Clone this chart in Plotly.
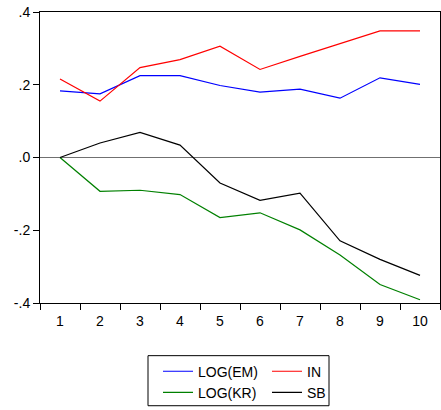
import plotly.graph_objects as go

periods = ["1", "2", "3", "4", "5", "6", "7", "8", "9", "10"]
log_em = [0.183, 0.175, 0.225, 0.225, 0.198, 0.180, 0.188, 0.163, 0.219, 0.201]
in_ser = [0.216, 0.155, 0.247, 0.269, 0.306, 0.242, 0.278, 0.312, 0.348, 0.348]
log_kr = [0.0, -0.093, -0.090, -0.102, -0.165, -0.152, -0.199, -0.268, -0.349, -0.391]
sb = [0.0, 0.040, 0.069, 0.034, -0.070, -0.118, -0.098, -0.229, -0.280, -0.324]
ytick_vals = [-0.4, -0.2, 0.0, 0.2, 0.4]
ytick_text = ["-.4", "-.2", ".0", ".2", ".4"]

FONT = "Liberation Sans, Arial, sans-serif"

fig = go.Figure()
fig.add_trace(go.Scatter(x=periods, y=log_em, mode="lines", name="LOG(EM)",
                         line=dict(color="#0000FF", width=1.2), legend="legend"))
fig.add_trace(go.Scatter(x=periods, y=log_kr, mode="lines", name="LOG(KR)",
                         line=dict(color="#008000", width=1.2), legend="legend"))
fig.add_trace(go.Scatter(x=periods, y=in_ser, mode="lines", name="IN",
                         line=dict(color="#FF0000", width=1.2), legend="legend2"))
fig.add_trace(go.Scatter(x=periods, y=sb, mode="lines", name="SB",
                         line=dict(color="#000000", width=1.2), legend="legend2"))

fig.add_shape(type="rect", xref="paper", yref="paper",
              x0=0.27, x1=0.7225, y0=-0.353, y1=-0.181,
              line=dict(color="black", width=1), fillcolor="rgba(0,0,0,0)")

fig.update_layout(
    width=441, height=410,
    margin=dict(l=40, r=1, t=12, b=107),
    paper_bgcolor="white", plot_bgcolor="white",
    font=dict(family=FONT, size=14, color="black"),
    showlegend=True,
    legend=dict(x=0.295, y=-0.181, xanchor="left", yanchor="top",
                bgcolor="rgba(0,0,0,0)", borderwidth=0,
                font=dict(family=FONT, size=14), tracegroupgap=0),
    legend2=dict(x=0.5675, y=-0.181, xanchor="left", yanchor="top",
                 bgcolor="rgba(0,0,0,0)", borderwidth=0,
                 font=dict(family=FONT, size=14), tracegroupgap=0),
    xaxis=dict(type="category", range=[-0.5, 9.5], tickson="boundaries",
               ticks="outside", ticklen=6, tickcolor="black", showgrid=False,
               zeroline=False, showline=True, linecolor="black", linewidth=1,
               mirror=True, ticklabelstandoff=5,
               tickfont=dict(family=FONT, size=14)),
    yaxis=dict(range=[-0.4, 0.4], tickvals=ytick_vals, ticktext=ytick_text,
               ticks="outside", ticklen=6, tickcolor="black", showgrid=False,
               zeroline=True, zerolinecolor="#707070", zerolinewidth=1,
               showline=True, linecolor="black", linewidth=1, mirror=True,
               tickfont=dict(family=FONT, size=14)),
)

fig.write_html("out.html")
